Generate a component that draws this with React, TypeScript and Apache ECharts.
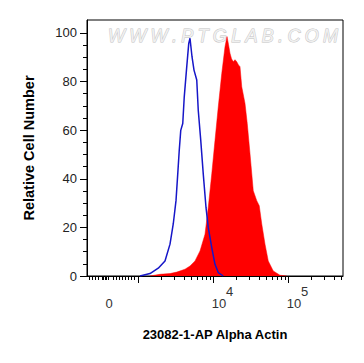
import { useEffect, useRef } from "react";
import * as echarts from "echarts";

// x axis in display channels (0..1024), y in % of max
const xMin = 0;
const xMax = 1024;
const yMin = 0;
const yMax = 105.3;

const blueX = [212, 252, 285, 312, 332, 345, 356, 363, 369, 375, 383, 389, 399, 407, 412, 420, 428, 439, 445, 455, 465, 476, 485, 499, 512, 525, 545];
const blueY = [0, 1.0, 3.2, 6.2, 13.1, 21.4, 31, 42, 51.7, 59.9, 62.7, 73.7, 86.1, 95.7, 97.8, 90.2, 84.7, 80.6, 68.2, 55.8, 42, 28.2, 20, 11.7, 4.8, 1.4, 0];

const redX = [252, 292, 332, 359, 392, 412, 432, 452, 472, 485, 499, 512, 525, 539, 552, 560, 566, 572, 578, 585, 592, 599, 606, 612, 619, 632, 641, 652, 665, 679, 689, 699, 712, 725, 745, 772, 799];
const redY = [0, 0.7, 1.0, 1.6, 2.8, 4.1, 6.2, 10.3, 17.2, 28.2, 42, 55.8, 69.5, 83.3, 94.3, 98.5, 95.2, 91.6, 89.4, 88.1, 89.0, 88.1, 86.8, 86.1, 77.8, 71, 62.7, 50.3, 35.1, 31, 28.9, 21.4, 13.1, 6.2, 2.1, 0.3, 0];

const xMajorTicks = [206, 506, 806];
const xLabelValues = [88, 506, 806];
const xLabelBase = ["0", "10", "10"];
const xLabelExp = ["", "4", "5"];
const xMinorTicks = [8, 20, 32, 45, 60, 66, 72, 78, 84, 104, 116, 128, 140, 152, 164, 176, 188, 296, 349, 387, 416, 439, 460, 477, 492, 596, 649, 687, 716, 739, 760, 777, 792, 896, 949, 987, 1016];

const yMajorTicks = [0, 20, 40, 60, 80, 100];
const yMinorTicks = [5, 10, 15, 25, 30, 35, 45, 50, 55, 65, 70, 75, 85, 90, 95];

const xTitle = "23082-1-AP Alpha Actin";
const yTitle = "Relative Cell Number";
const watermark = "WWW.PTGLAB.COM";

const FONT = '"Liberation Sans", Arial, Helvetica, sans-serif';

export default function App() {
  const ref = useRef<HTMLDivElement>(null);
  useEffect(() => {
    document.body.style.margin = "0";
    if (!ref.current) return;
    const chart = echarts.init(ref.current, undefined, { renderer: "svg" });

    // watermark letters spaced across a fixed span
    const wmFontSize = 18;
    const canvas = document.createElement("canvas");
    const ctx = canvas.getContext("2d")!;
    ctx.font = `italic ${wmFontSize}px "Liberation Sans"`;
    const chars = Array.from(watermark);
    const widths = chars.map((c) => ctx.measureText(c).width);
    const total = widths.reduce((a, b) => a + b, 0);
    const span = 230;
    const gap = (span - total) / (chars.length - 1);
    let cx = 108;
    const wmEls: any[] = chars.map((c, i) => {
      const el = {
        type: "text",
        x: cx,
        y: 36,
        z: 1,
        silent: true,
        style: {
          text: c,
          fontSize: wmFontSize,
          fontStyle: "italic",
          fontFamily: "Liberation Sans",
          fill: "#f0f0f0",
          stroke: "#c2c2c2",
          lineWidth: 0.9,
          align: "left",
          verticalAlign: "middle",
        },
      };
      cx += widths[i] + gap;
      return el;
    });

    const axisBlack = { color: "#000", width: 1 };

    chart.setOption({
      animation: false,
      grid: {
        left: 87,
        top: 20,
        right: 21,
        bottom: 87,
        show: true,
        borderColor: "#000",
        borderWidth: 1,
        backgroundColor: "transparent",
      },
      graphic: wmEls,
      xAxis: [
        {
          type: "value",
          min: xMin,
          max: xMax,
          position: "bottom",
          name: xTitle,
          nameLocation: "middle",
          nameGap: 52,
          nameTextStyle: { fontFamily: FONT, fontSize: 13, fontWeight: "bold", color: "#000" },
          axisLine: { show: true, onZero: false, lineStyle: axisBlack },
          axisTick: { show: true, inside: false, length: 7, customValues: xMajorTicks, lineStyle: axisBlack },
          splitLine: { show: false },
          axisLabel: {
            show: true,
            margin: 14,
            customValues: xLabelValues,
            fontFamily: FONT,
            color: "#333",
            formatter: (v: number) => {
              const i = xLabelValues.indexOf(v);
              if (i < 0) return "";
              if (!xLabelExp[i]) return `{z|${xLabelBase[i]}}`;
              return `{b|${xLabelBase[i]}}{s|${xLabelExp[i]}}`;
            },
            rich: {
              z: { fontFamily: FONT, fontSize: 13, lineHeight: 15, color: "#333", padding: [12, 0, 0, 0] },
              b: { fontFamily: FONT, fontSize: 13, lineHeight: 15, color: "#333", padding: [12, 0, 0, 18] },
              s: { fontFamily: FONT, fontSize: 13, lineHeight: 15, color: "#333", padding: [0, 0, 12, 0] },
            },
          },
        },
        {
          type: "value",
          min: xMin,
          max: xMax,
          position: "bottom",
          axisLine: { show: false, onZero: false, lineStyle: axisBlack },
          axisTick: { show: true, inside: false, length: 4, customValues: xMinorTicks, lineStyle: axisBlack },
          axisLabel: { show: false },
          splitLine: { show: false },
        },
      ],
      yAxis: [
        {
          type: "value",
          min: yMin,
          max: yMax,
          position: "left",
          name: yTitle,
          nameLocation: "middle",
          nameGap: 51,
          nameRotate: 90,
          nameTextStyle: { fontFamily: FONT, fontSize: 14.5, fontWeight: "bold", color: "#000" },
          axisLine: { show: true, onZero: false, lineStyle: axisBlack },
          axisTick: { show: true, inside: false, length: 7, customValues: yMajorTicks, lineStyle: axisBlack },
          axisLabel: {
            show: true,
            margin: 10,
            customValues: yMajorTicks,
            fontFamily: FONT,
            fontSize: 13,
            color: "#222",
          },
          splitLine: { show: false },
        },
        {
          type: "value",
          min: yMin,
          max: yMax,
          position: "left",
          axisLine: { show: false, onZero: false, lineStyle: axisBlack },
          axisTick: { show: true, inside: false, length: 4, customValues: yMinorTicks, lineStyle: axisBlack },
          axisLabel: { show: false },
          splitLine: { show: false },
        },
      ],
      series: [
        {
          type: "line",
          name: "stained",
          xAxisIndex: 0,
          yAxisIndex: 0,
          data: redX.map((x, i) => [x, redY[i]]),
          showSymbol: false,
          symbol: "none",
          lineStyle: { color: "#ff0000", width: 0.5 },
          areaStyle: { color: "#ff0000", opacity: 1 },
          z: 2,
        },
        {
          type: "line",
          name: "control",
          xAxisIndex: 0,
          yAxisIndex: 0,
          data: blueX.map((x, i) => [x, blueY[i]]),
          showSymbol: false,
          symbol: "none",
          lineStyle: { color: "#1616c8", width: 1.5 },
          z: 3,
        },
      ],
    });
    return () => chart.dispose();
  }, []);
  return <div ref={ref} style={{ width: 364, height: 363 }} />;
}
